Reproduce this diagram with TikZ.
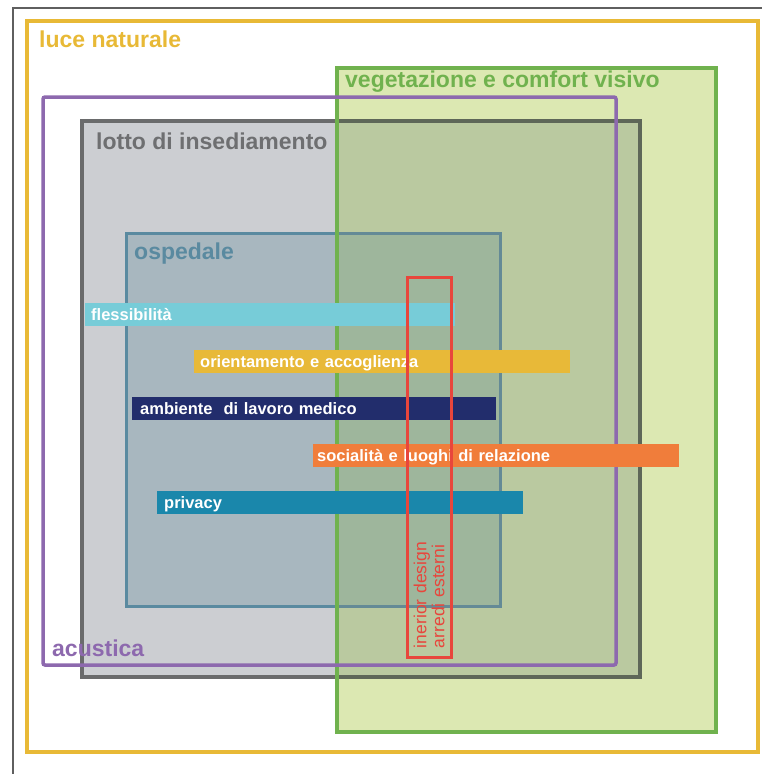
\documentclass[tikz,border=0pt]{standalone}
\usepackage{fontspec}
\setmainfont{Liberation Sans}
\definecolor{outerc}{RGB}{95,95,95}
\definecolor{yellowc}{RGB}{232,185,54}
\definecolor{greenc}{RGB}{112,178,78}
\definecolor{greenfill}{RGB}{220,232,178}
\definecolor{purplec}{RGB}{141,105,174}
\definecolor{greyfill}{RGB}{204,206,210}
\definecolor{greystroke}{RGB}{106,107,108}
\definecolor{greytext}{RGB}{110,111,113}
\definecolor{greyg}{RGB}{186,201,160}
\definecolor{greystrokeg}{RGB}{94,103,88}
\definecolor{ospfill}{RGB}{168,183,191}
\definecolor{ospstroke}{RGB}{90,138,160}
\definecolor{ospg}{RGB}{158,182,156}
\definecolor{ospstrokeg}{RGB}{100,138,150}
\definecolor{cyanbar}{RGB}{119,204,216}
\definecolor{yellowbar}{RGB}{232,185,56}
\definecolor{navybar}{RGB}{34,45,108}
\definecolor{orangebar}{RGB}{240,125,59}
\definecolor{tealbar}{RGB}{26,135,171}
\definecolor{redc}{RGB}{232,70,60}
\begin{document}
\begin{tikzpicture}[x=1pt,y=-1pt,
  title/.style={font=\fontsize{23}{27}\selectfont\bfseries, inner sep=0pt, anchor=base west},
  bar/.style={anchor=north west, inner ysep=0pt, minimum height=23pt,
    text height=11pt, text depth=0pt, align=left, text=white,
    font=\fontsize{16.5}{19}\selectfont\bfseries},
  region/.style={line width=4pt}]
\useasboundingbox (0,0) rectangle (762,774);
% lotto and ospedale (base layer)
\fill[greyfill] (82,121) rectangle (640,677);
\draw[region, greystroke] (82,121) rectangle (640,677);
\fill[ospfill] (126,233) rectangle (500,606);
\draw[line width=3pt, ospstroke] (126,233) rectangle (500,606);
% vegetazione fill with overlap colours
\fill[greenfill] (337,68) rectangle (716,732);
\begin{scope}
  \clip (337,68) rectangle (716,732);
  \fill[greyg] (82,121) rectangle (640,677);
  \draw[region, greystrokeg] (82,121) rectangle (640,677);
  \fill[ospg] (126,233) rectangle (500,606);
  \draw[line width=3pt, ospstrokeg] (126,233) rectangle (500,606);
\end{scope}
\draw[region, greenc] (337,68) rectangle (716,732);
% acustica
\draw[line width=3.5pt, purplec, rounded corners=2pt] (43,97) rectangle (616,665);
% luce naturale
\draw[region, yellowc] (27,21) rectangle (758,752);
% outer frame
\draw[line width=2.5pt, outerc] (13,780) -- (13,8) -- (770,8);
% titles
\node[title, text=yellowc] (luce) at (39,47) {luce naturale};
\node[title, text=greenc] (veg) at (345,87) {vegetazione e comfort visivo};
\node[title, text=greytext] (lotto) at (96,149) {lotto di insediamento};
\node[title, text=ospstroke] (osp) at (134,259) {ospedale};
\node[title, text=purplec] (acu) at (52,656) {acustica};
% bars
\node[bar, fill=cyanbar, inner xsep=6pt, text width=358pt] (fles) at (85,303) {flessibilità};
\node[bar, fill=yellowbar, inner xsep=6pt, text width=364pt] (orie) at (194,350) {orientamento e accoglienza};
\node[bar, fill=navybar, inner xsep=8pt, text width=348pt] (amb) at (132,397) {ambiente~ di lavoro medico};
\node[bar, fill=orangebar, inner xsep=4pt, text width=358pt] (soc) at (313,444) {socialità e luoghi di relazione};
\node[bar, fill=tealbar, inner xsep=7pt, text width=352pt] (priv) at (157,491) {privacy};
% interior design box
\node[draw=redc, line width=3pt, rotate=90, minimum width=380pt, minimum height=44pt,
  inner xsep=9pt, inner ysep=0pt, text width=362pt, align=left, text=redc,
  font=\fontsize{17.5}{18}\selectfont] (inter) at (429,467) {inerior design\\arredi esterni};
\end{tikzpicture}
\end{document}
